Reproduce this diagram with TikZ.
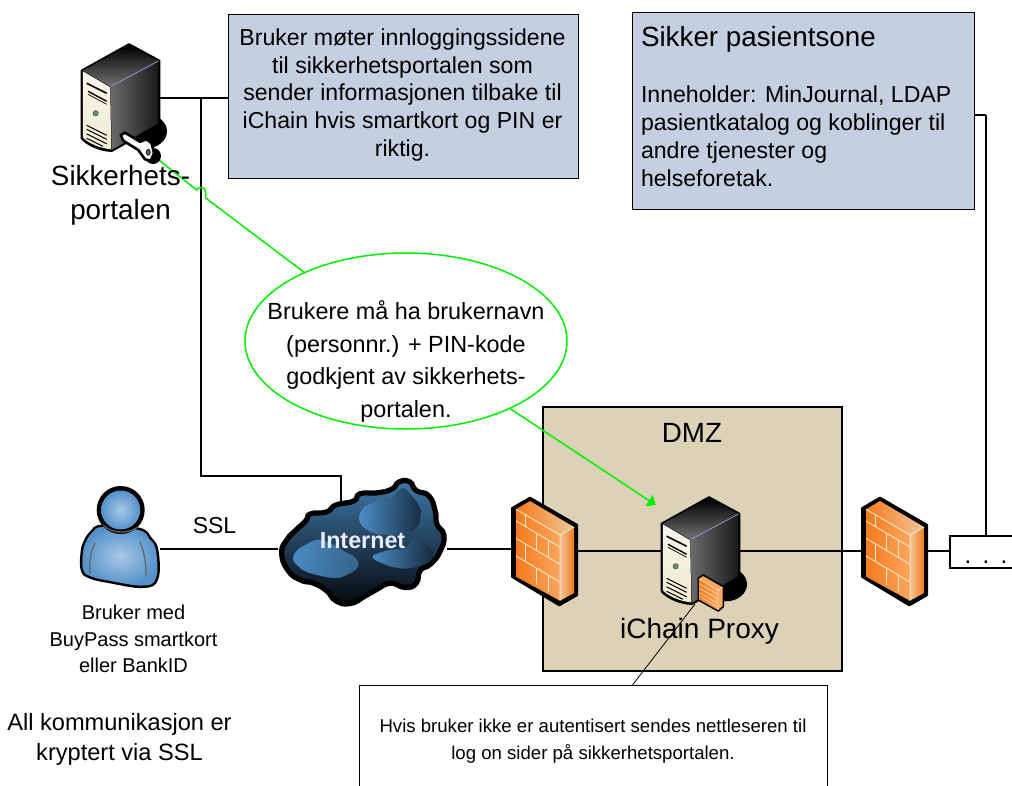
\documentclass[tikz,border=0pt]{standalone}
\usepackage{fontspec}
\setmainfont{Liberation Sans}
\usetikzlibrary{shapes.geometric,arrows.meta}
\definecolor{boxblue}{HTML}{C5CFE2}
\definecolor{dmzfill}{HTML}{DBD2B8}
\definecolor{callgreen}{HTML}{00F000}
\definecolor{brick}{HTML}{F8E8C8}
\definecolor{fwdeep}{HTML}{F57A1E}
\definecolor{fwmid}{HTML}{F9A65E}
\definecolor{fwpale}{HTML}{EFC79A}
\definecolor{skinA}{HTML}{A8C8E6}
\definecolor{skinB}{HTML}{5592CA}
\definecolor{cloudA}{HTML}{3F78A8}
\definecolor{cloudM}{HTML}{254C6E}
\definecolor{cloudB}{HTML}{05090E}
\definecolor{lobeA}{HTML}{4F94CE}
\definecolor{lobeB}{HTML}{16293D}
\definecolor{creamA}{HTML}{F7F5EA}
\definecolor{creamB}{HTML}{EFEBD3}
\tikzset{
  infobox/.style={draw=black,line width=1pt,fill=boxblue},
  wire/.style={draw=black,line width=1.15pt},
  greenwire/.style={draw=callgreen,line width=1.5pt},
  slot/.style={draw=black,line width=1pt},
  anchorbox/.style={inner sep=0pt,outer sep=0pt},
  lbl/.style={inner sep=0pt,outer sep=0pt,align=center},
  bricks/.style={draw=brick,line width=.9pt},
}
\newcommand{\fs}[2]{\fontsize{#1}{#2}\selectfont}
% server: origin = top vertex of the case
\newcommand{\serverbody}[1]{%
\begin{scope}[shift={(#1.center)},shift={(8.5,-53.7)}]
  \fill[black] (17,87) ellipse[x radius=21,y radius=17];
  \draw[black,fill=black,line width=2.2pt,line join=round] (-47.3,26.4) -- (0,0) -- (30.3,16.4) -- (30.3,80) -- (-17.3,106.6) .. controls (-30,106) and (-42,100) .. (-47.3,94) -- cycle;
  \shade[top color=black,bottom color=black!55!white] (-46,26.4) -- (0,1) -- (29,16.8) -- (-18.3,42.4) -- cycle;
  \shade[left color=black!58,right color=black!90] (-18.3,43) -- (29.2,17.4) -- (29.2,79) -- (-17.3,105.5) -- cycle;
  \shade[top color=creamA,bottom color=creamB] (-46.2,27) -- (-18.8,43) -- (-17.8,105) .. controls (-30,104) and (-42,98) .. (-46.2,93) -- cycle;
  \draw[white!70!blue,line width=.6pt] (-18.3,42.4) -- (30,16.4);
  \draw[slot,line width=1.6pt] (-42.3,39) -- (-22.3,49);
  \draw[slot,line width=1.4pt] (-41,47) -- (-22.3,57);
  \draw[slot,line width=.7pt] (-41,50) -- (-22.3,60);
  \fill[black!70!green!60!white,draw=black!70,line width=.6pt] (-33.3,69) circle[radius=2.6];
  \draw[slot] (-42.3,81) -- (-22.3,91);
  \draw[slot] (-42.3,85) -- (-22.3,95);
  \draw[slot] (-42.3,89.5) -- (-22.3,99.5);
  \draw[slot] (-42.3,94) -- (-26,102);
\end{scope}}
% firewall: origin = top vertex
\newcommand{\firewallbody}[1]{%
\begin{scope}[shift={(#1.center)},shift={(-14.5,-53)}]
  \draw[black,fill=black,line width=2.6pt,line join=round] (0,0) -- (-17.7,10.3) -- (-17.7,78.7) -- (29.3,107) -- (46.7,97) -- (46.7,27) -- cycle;
  \shade[left color=fwdeep,right color=fwpale] (-14,11.3) -- (0,3) -- (44,29) -- (30,37) -- cycle;
  \shade[left color=fwdeep,middle color=fwmid,right color=fwmid] (-14,11.3) -- (30,37) -- (30,102.7) -- (-14,78.7) -- cycle;
  \shade[left color=fwpale,right color=fwdeep] (30,37) -- (44,29) -- (44,95) -- (30,102.7) -- cycle;
  \draw[bricks] (-14,11.3) -- (30,37) -- (44,29) (30,37) -- (30,102.7);
  \draw[bricks] (-14,23) -- (30,49) (-14,40.3) -- (30,66.3) (-14,58) -- (30,84);
  \draw[bricks] (-5,16.6) -- (-5,28.3) (6.7,35.5) -- (6.7,52.5) (18,42.2) -- (18,59.2) (-5,45.6) -- (-5,63.3)
                (6.7,70.2) -- (6.7,87) (18,76.9) -- (18,94);
\end{scope}}
\begin{document}
\begin{tikzpicture}[x=1pt,y=-1pt]
\useasboundingbox (0,0) rectangle (1012,785);
\clip (0,0) rectangle (1012,785);
% anchors of the icons
\node[anchorbox,minimum width=77pt,minimum height=108pt] (srvA) at (120.5,98) {};
\node[anchorbox,minimum width=77pt,minimum height=108pt] (srvB) at (700.5,551) {};
\node[anchorbox,minimum width=80pt,minimum height=126pt] (user) at (120,549) {};
\node[anchorbox,minimum width=169pt,minimum height=120pt] (cloud) at (362.5,549) {};
\node[anchorbox,minimum width=65pt,minimum height=107pt] (fwA) at (544.5,551) {};
\node[anchorbox,minimum width=65pt,minimum height=107pt] (fwB) at (894.5,551) {};
% boxes
\node[infobox,anchorbox,draw,minimum width=350pt,minimum height=164pt] (boxA) at (403,96) {};
\node[lbl,font=\fs{23.1}{27.8}] (boxAtext) at (402.5,95) {Bruker møter innloggingssidene\\til sikkerhetsportalen som\\sender informasjonen tilbake til\\iChain hvis smartkort og PIN er\\riktig.};
\node[infobox,anchorbox,draw,minimum width=342pt,minimum height=197pt] (boxB) at (803,110.5) {};
\node[lbl,anchor=west,font=\fs{27.8}{32}] (boxBhead) at (641,39) {Sikker pasientsone};
\node[lbl,anchor=west,align=left,font=\fs{23.1}{28}] (boxBtext) at (641,136) {Inneholder: MinJournal, LDAP\\pasientkatalog og koblinger til\\andre tjenester og\\helseforetak.};
\node[anchorbox,draw=black,line width=1.2pt,fill=dmzfill,minimum width=299pt,minimum height=264pt] (dmz) at (692.5,539) {};
\node[anchorbox,draw=black,line width=1.2pt,fill=white,minimum width=80pt,minimum height=32pt] (dots) at (990,552) {};
\node[lbl,fill=white,minimum width=468pt,minimum height=113pt,font=\fs{18.6}{27}] (note) at (593,741.5) {Hvis bruker ikke er autentisert sendes nettleseren til\\log on sider på sikkerhetsportalen.};
\draw[black,line width=.8pt] (note.south west) -- (note.north west) -- (note.north east) -- (note.south east);
% connectors
\coordinate (jA) at (201,98);
\coordinate (jB) at (201,476);
\coordinate (jC) at (341,476);
\coordinate (jD) at (986,115);
\coordinate (pinA) at (695,604);
\coordinate (pinB) at (632.5,685);
\coordinate (keytip) at (150,153);
\coordinate (hopA) at (196.7,190);
\coordinate (hopB) at (205.7,198);
\coordinate (arrowtip) at (655.7,505);
\draw[wire] (srvA.east) -- (srvA.east -| boxA.west);
\draw[wire] (jA) -- (jB) -- (jC) -- (jC |- cloud.center);
\draw[wire] (user.east) -- (cloud.west);
\draw[wire] (cloud.east) -- (cloud.east -| fwA.west);
\draw[wire] (fwA.east) -- (srvB.west);
\draw[wire] (srvB.east) -- (fwB.west);
\draw[wire] (fwB.east) -- (fwB.east -| dots.west);
\draw[wire] (jD) -- (jD |- dots.north);
\draw[wire] (jD) -- (jD -| boxB.east);
% callout
\node[draw=callgreen,line width=1.5pt,fill=white,ellipse,inner sep=0pt,minimum width=322pt,minimum height=176pt] (ell) at (406,341) {};
\node[lbl,font=\fs{23.4}{32.8}] (elltext) at (406,361.5) {Brukere må ha brukernavn\\(personnr.) + PIN-kode\\godkjent av sikkerhets-\\portalen.};
\draw[greenwire] (keytip) -- (hopA) .. controls (198.5,186.5) and (205.5,186) .. (205.5,192) -- (hopB) -- (ell.146.6);
\draw[greenwire,-{Triangle[length=8pt,width=13pt]}] (ell.-33) -- (arrowtip);
% icons
\serverbody{srvA}
\serverbody{srvB}
\firewallbody{fwA}
\firewallbody{fwB}
\draw[black,line width=.8pt] (pinA) -- (pinB);
% key on the first server
\fill[black] (153,156) ellipse[x radius=8,y radius=8];
\draw[black,line width=2.6pt,fill=white,line join=round] (120.7,135) -- (125,132.7) -- (140,141.7) -- (146.7,139.3) -- (151.7,143.3) -- (154,153.3) -- (150.7,160.7) -- (145,159.3) -- (138.3,150) -- (123.3,140.7) -- cycle;
\fill[black!60,draw=black,line width=.7pt] (148.3,152.3) ellipse[x radius=2,y radius=3];
% small firewall on the second server
\draw[black,line width=1.6pt,fill=fwmid,line join=round] (698.3,578) -- (703.3,575) -- (723.3,586.7) -- (723.3,606.7) -- (718.3,611) -- (698.3,600) -- cycle;
\shade[left color=fwdeep,right color=fwmid] (699,579) -- (718,590) -- (718,610) -- (699,599) -- cycle;
\draw[bricks,line width=.5pt] (699,579) -- (718,590) -- (723,587) (718,590) -- (718,610)
  (699,583.5) -- (718,594.5) (699,588) -- (718,599) (699,592.5) -- (718,603.5) (699,596) -- (718,607);
% user
\draw[black,line width=5pt,fill=skinB,line join=round] plot[smooth cycle,tension=.7] coordinates {(103,527) (92,533) (85.5,543) (83,553) (83,569) (90,576) (111,581) (143,585.5) (156,578) (156,551) (149.5,539) (138.5,530)};
\shade[inner color=skinA,outer color=skinB,shading=radial] plot[smooth cycle,tension=.7] coordinates {(103,527) (92,533) (85.5,543) (83,553) (83,569) (90,576) (111,581) (143,585.5) (156,578) (156,551) (149.5,539) (138.5,530)};
\draw[black!60,line width=1.3pt] (95,543) .. controls (90,553) and (89,565) .. (90,574);
\draw[black!60,line width=1.3pt] (140,542) .. controls (145,553) and (146,565) .. (146,576);
\draw[black,line width=5pt,fill=skinB] (120.7,510) circle[radius=21.5];
\shade[inner color=skinA,outer color=skinB,shading=radial] (120.7,510) circle[radius=19.5];
\draw[black!60,line width=1.3pt] (103,525) .. controls (112,534) and (128,534) .. (138,527);
% cloud
\begin{scope}[shift={(273.7,472.9)},x=.32pt,y=-.32pt]
  \draw[black,line width=5.2pt,line join=round,top color=cloudA,middle color=cloudM,bottom color=cloudB] plot[smooth cycle,tension=.9] coordinates {(25,250) (42,208) (68,180) (100,150) (115,128) (165,122) (195,100) (250,88) (270,65) (325,62) (370,50) (392,28) (425,28) (445,55) (485,72) (505,120) (510,160) (532,195) (520,245) (490,285) (458,305) (445,345) (410,358) (365,345) (320,365) (285,385) (240,408) (195,400) (165,368) (125,345) (85,335) (45,305)};
  \shade[left color=lobeA,right color=lobeB!40!lobeA,opacity=.9] plot[smooth cycle,tension=.8] coordinates {(60,268) (75,240) (100,225) (125,212) (150,210) (190,225) (220,245) (255,265) (262,295) (225,320) (190,328) (140,320) (100,308) (75,290)};
  \shade[left color=lobeA,right color=lobeB,opacity=.92] plot[smooth cycle,tension=.8] coordinates {(268,150) (278,112) (300,98) (335,82) (365,82) (400,48) (428,68) (455,105) (458,135) (445,172) (390,192) (340,192) (298,182)};
  \shade[left color=lobeA,right color=lobeB,opacity=.92] plot[smooth cycle,tension=.8] coordinates {(310,265) (330,250) (370,240) (410,235) (440,208) (470,222) (492,240) (497,262) (480,282) (430,297) (390,297) (350,287)};
\end{scope}
\node[lbl,text=white!92!blue,font=\fs{23.3}{26}\bfseries] (cloudlabel) at (362.5,541) {Internet};
% labels
\node[lbl,font=\fs{27.8}{34}] (srvAlabel) at (120.5,195) {Sikkerhets-\\portalen};
\node[lbl,font=\fs{28}{32}] (srvBlabel) at (699.5,631) {iChain Proxy};
\node[lbl,font=\fs{27.8}{32}] (dmzlabel) at (692,433) {DMZ};
\node[lbl,font=\fs{23}{26}] (ssllabel) at (214.5,526) {SSL};
\node[lbl,font=\fs{20}{26.5}] (userlabel) at (133.5,639) {Bruker med\\BuyPass smartkort\\eller BankID};
\node[lbl,font=\fs{23.6}{30}] (sslnote) at (119.5,739) {All kommunikasjon er\\kryptert via SSL};
\node[lbl,font=\fs{24}{24}] (dotslabel) at (986,562) {.\hspace{11.3pt}.\hspace{11.3pt}.};
\end{tikzpicture}
\end{document}
